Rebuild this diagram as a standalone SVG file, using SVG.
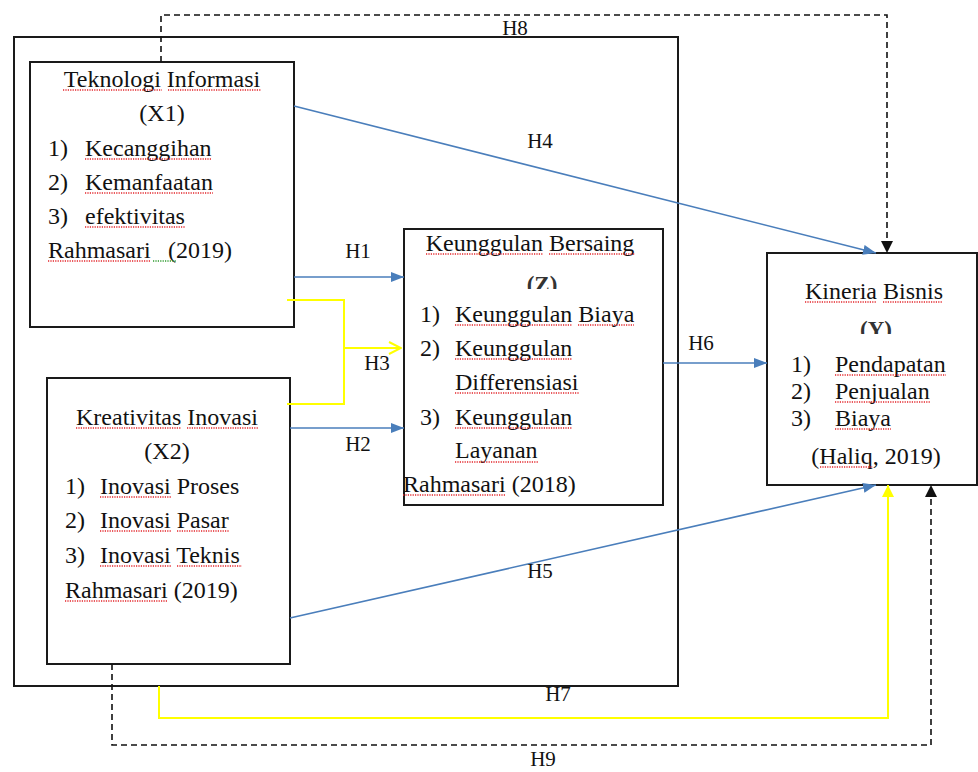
<svg xmlns="http://www.w3.org/2000/svg" width="978" height="772" viewBox="0 0 978 772">
<style>
  text { font-family: "Liberation Serif", "Times New Roman", serif; font-size: 24px; fill: #111; }
  .c { text-anchor: middle; }
  .b { font-weight: bold; font-size: 23px; fill: #333; }
  .h { font-size: 21px; text-anchor: middle; }
  .box { fill: #fff; stroke: #1a1a1a; stroke-width: 2; }
  .frame { fill: none; stroke: #1a1a1a; stroke-width: 2; }
  .blue { fill: none; stroke: #4a7ebb; stroke-width: 1.6; }
  .yel { fill: none; stroke: #ffff00; stroke-width: 2; }
  .dash { fill: none; stroke: #111; stroke-width: 1.6; stroke-dasharray: 6 4; }
  .u { fill: none; stroke: #e3262b; stroke-width: 1.6; stroke-dasharray: 1.2 1.2; }
  .g { fill: none; stroke: #2e9a2e; stroke-width: 1.6; stroke-dasharray: 1.2 1.2; }
</style>
<defs>
  <marker id="ab" markerUnits="userSpaceOnUse" markerWidth="13" markerHeight="10" refX="13" refY="5" orient="auto">
    <path d="M0,0 L13,5 L0,10 z" fill="#4a7ebb"/>
  </marker>
  <marker id="ak" markerUnits="userSpaceOnUse" markerWidth="12" markerHeight="12" refX="12" refY="6" orient="auto">
    <path d="M0,0 L12,6 L0,12 z" fill="#111"/>
  </marker>
  <marker id="ay" markerUnits="userSpaceOnUse" markerWidth="12" markerHeight="12" refX="12" refY="6" orient="auto">
    <path d="M0,0 L12,6 L0,12 z" fill="#ffff00"/>
  </marker>
  <marker id="ayo" markerUnits="userSpaceOnUse" markerWidth="14" markerHeight="14" refX="13" refY="7" orient="auto">
    <path d="M1,1 L13,7 L1,13" fill="none" stroke="#ffff00" stroke-width="2"/>
  </marker>
  <clipPath id="clipZ"><rect x="500" y="260" width="80" height="29"/></clipPath>
  <clipPath id="clipY"><rect x="840" y="300" width="80" height="34"/></clipPath>
</defs>

<rect id="frame" class="frame" x="14" y="37" width="664" height="649"/>

<g id="node-x1">
  <rect class="box" x="30" y="62" width="264" height="265"/>
  <text class="c" x="162" y="87">Teknologi Informasi</text>
  <text class="c" x="162" y="121">(X1)</text>
  <text x="48" y="156">1)</text><text x="85" y="156">Kecanggihan</text>
  <text x="48" y="190">2)</text><text x="85" y="190">Kemanfaatan</text>
  <text x="48" y="224">3)</text><text x="85" y="224">efektivitas</text>
  <text x="48" y="258"><tspan>Rahmasari</tspan><tspan x="168">(2019)</tspan></text>
  <path class="u" d="M63,90 H162 M168,90 H261 M85,159 H212 M85,193 H213 M85,227 H185 M48,261 H151"/>
  <path class="g" d="M153,261 H177"/>
</g>

<g id="node-x2">
  <rect class="box" x="47" y="378" width="243" height="286"/>
  <text class="c" x="167" y="425">Kreativitas Inovasi</text>
  <text class="c" x="167" y="459">(X2)</text>
  <text x="65" y="494">1)</text><text x="100" y="494">Inovasi Proses</text>
  <text x="65" y="528">2)</text><text x="100" y="528">Inovasi Pasar</text>
  <text x="65" y="563">3)</text><text x="100" y="563">Inovasi Teknis</text>
  <text x="65" y="598">Rahmasari (2019)</text>
  <path class="u" d="M76,428 H181 M187,428 H258 M100,497 H171 M100,531 H171 M177,531 H229 M100,566 H171 M177,566 H242 M65,601 H168"/>
</g>

<g id="node-z">
  <rect class="box" x="404" y="229" width="259" height="276"/>
  <text class="c" x="530" y="251">Keunggulan Bersaing</text>
  <text class="c b" x="542" y="292" clip-path="url(#clipZ)">(Z)</text>
  <text x="420" y="322">1)</text><text x="455" y="322">Keunggulan Biaya</text>
  <text x="420" y="356">2)</text><text x="455" y="356">Keunggulan</text>
  <text x="455" y="390">Differensiasi</text>
  <text x="420" y="425">3)</text><text x="455" y="425">Keunggulan</text>
  <text x="455" y="458">Layanan</text>
  <text x="403" y="492">Rahmasari (2018)</text>
  <path class="u" d="M426,254 H543 M549,254 H635 M455,325 H572 M578,325 H634 M455,359 H572 M455,393 H579 M455,428 H572 M455,462 H538 M403,495 H506"/>
</g>

<g id="node-y">
  <rect class="box" x="767" y="253" width="210" height="232"/>
  <text x="805" y="299">Kineria Bisnis</text>
  <text class="c b" x="876" y="337" clip-path="url(#clipY)">(Y)</text>
  <text x="791" y="372">1)</text><text x="835" y="372">Pendapatan</text>
  <text x="791" y="399">2)</text><text x="835" y="399">Penjualan</text>
  <text x="791" y="426">3)</text><text x="835" y="426">Biaya</text>
  <text class="c" x="876" y="464">(Haliq, 2019)</text>
  <path class="u" d="M805,302 H877 M883,302 H943 M835,375 H946 M835,402 H930 M835,429 H891 M820,467 H873"/>
</g>

<g id="connectors">
  <path class="blue" d="M294,106 L876,253" marker-end="url(#ab)"/>
  <path class="blue" d="M294,277 L404,277" marker-end="url(#ab)"/>
  <path class="blue" d="M290,428 L404,428" marker-end="url(#ab)"/>
  <path class="blue" d="M663,363 L767,363" marker-end="url(#ab)"/>
  <path class="blue" d="M290,618 L876,485" marker-end="url(#ab)"/>
  <path class="yel" d="M287,300 H344 V404 H287"/>
  <path class="yel" d="M344,348 H401" marker-end="url(#ayo)"/>
  <path class="yel" d="M159,686 V718 H888 V485" marker-end="url(#ay)"/>
  <path class="dash" d="M161,62 V15 H887 V253" marker-end="url(#ak)"/>
  <path class="dash" d="M112,664 V745 H931 V485" marker-end="url(#ak)"/>
  <text class="h" x="358" y="258">H1</text>
  <text class="h" x="358" y="451">H2</text>
  <text class="h" x="377" y="370">H3</text>
  <text class="h" x="540" y="148">H4</text>
  <text class="h" x="540" y="578">H5</text>
  <text class="h" x="701" y="350">H6</text>
  <text class="h" x="558" y="701">H7</text>
  <text class="h" x="515" y="35">H8</text>
  <text class="h" x="543" y="766">H9</text>
</g>
</svg>
